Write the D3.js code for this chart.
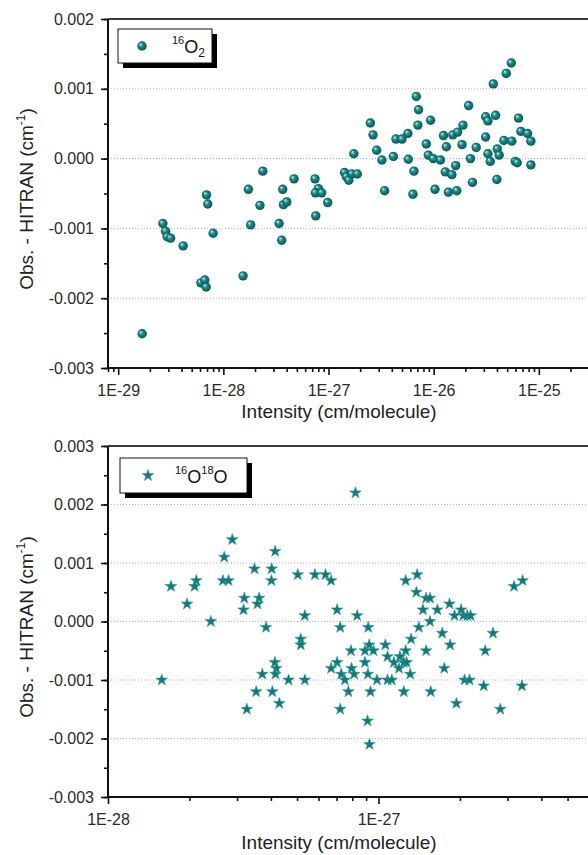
<!DOCTYPE html>
<html>
<head>
<meta charset="utf-8">
<script src="https://cdn.jsdelivr.net/npm/d3@7"></script>
<style>
  html, body { margin: 0; padding: 0; background: #fff; }
  svg { display: block; font-family: Arial, "Liberation Sans", sans-serif; }
</style>
</head>
<body>
<svg id="chart" width="588" height="855"></svg>
<script>
// 16O2 lines: line intensity (cm/molecule) and observed minus HITRAN position (cm-1)
const o2Intensity = [
  1.69e-29, 2.66e-29, 2.82e-29, 2.92e-29, 3.15e-29, 4.15e-29, 6.92e-29, 7.11e-29, 7.99e-29, 6.11e-29,
  6.66e-29, 6.86e-29, 1.54e-28, 1.73e-28, 2.37e-28, 1.82e-28, 2.23e-28, 3.67e-28, 4.70e-28, 3.39e-28,
  3.59e-28, 3.73e-28, 4.01e-28, 7.44e-28, 8.02e-28, 7.51e-28, 8.61e-28, 9.83e-28, 7.56e-28, 5.47e-26,
  4.90e-26, 3.69e-26, 6.84e-27, 7.19e-27, 2.15e-26, 2.50e-27, 2.65e-27, 7.08e-27, 9.35e-27, 3.12e-26,
  3.28e-26, 3.88e-26, 6.41e-26, 4.38e-27, 4.99e-27, 5.69e-27, 1.24e-26, 1.52e-26, 1.69e-26, 1.90e-26,
  3.12e-26, 6.75e-26, 7.81e-26, 8.40e-26, 4.65e-26, 5.54e-26, 2.87e-27, 1.74e-27, 4.14e-27, 3.22e-27,
  5.74e-27, 8.51e-27, 8.89e-27, 9.92e-27, 1.16e-26, 1.32e-26, 1.86e-26, 2.54e-26, 2.24e-26, 3.28e-26,
  3.45e-26, 4.03e-26, 4.20e-26, 5.97e-26, 6.23e-26, 8.40e-26, 6.49e-27, 1.29e-26, 1.49e-26, 1.62e-26,
  1.42e-27, 1.48e-27, 1.56e-27, 1.67e-27, 1.88e-27, 3.42e-27, 6.35e-27, 1.03e-26, 1.38e-26, 1.66e-26,
  2.34e-26, 3.99e-26
];
const o2Delta = [
  -0.00251, -0.00093, -0.00104, -0.00112, -0.00114, -0.00125, -0.00052, -0.00065, -0.00107, -0.00178,
  -0.00174, -0.00184, -0.00168, -0.00044, -0.00018, -0.00095, -0.00067, -0.00044, -0.00029, -0.00093,
  -0.00117, -0.00066, -0.00062, -0.00029, -0.00043, -0.00049, -0.00049, -0.00063, -0.00082, 0.00137,
  0.00122, 0.00107, 0.00089, 0.00070, 0.00076, 0.00051, 0.00034, 0.00048, 0.00055, 0.00060,
  0.00054, 0.00062, 0.00058, 0.00028, 0.00028, 0.00036, 0.00033, 0.00034, 0.00038, 0.00048,
  0.00031, 0.00039, 0.00036, 0.00025, 0.00026, 0.00025, 0.00012, 0.00007, 0.00003, -0.00002,
  -0.00001, 0.00021, 0.00005, 0.00000, -0.00002, 0.00017, 0.00020, 0.00016, 0.00000, 0.00007,
  -0.00004, 0.00014, 0.00005, -0.00004, -0.00006, -0.00009, -0.00018, -0.00019, -0.00023, -0.00010,
  -0.00020, -0.00026, -0.00031, -0.00022, -0.00022, -0.00046, -0.00051, -0.00044, -0.00048, -0.00046,
  -0.00034, -0.00030
];

// 16O18O lines
const o18Intensity = [
  2.88e-28, 2.69e-28, 4.15e-28, 3.48e-28, 4.03e-28, 1.71e-28, 2.12e-28, 2.09e-28, 2.66e-28, 2.79e-28,
  4.02e-28, 5.03e-28, 5.82e-28, 6.37e-28, 6.68e-28, 1.96e-28, 3.19e-28, 3.62e-28, 3.57e-28, 3.17e-28,
  2.40e-28, 3.84e-28, 5.34e-28, 7.03e-28, 5.16e-28, 5.16e-28, 4.14e-28, 4.19e-28, 3.72e-28, 4.16e-28,
  4.65e-28, 5.34e-28, 1.58e-28, 3.53e-28, 4.05e-28, 4.30e-28, 3.26e-28, 7.03e-28, 6.68e-28, 7.22e-28,
  7.28e-28, 7.22e-28, 8.22e-28, 1.26e-27, 1.39e-27, 1.38e-27, 1.50e-27, 1.55e-27, 1.83e-27, 2.02e-27,
  1.91e-27, 2.06e-27, 2.13e-27, 2.19e-27, 3.17e-27, 3.41e-27, 8.34e-28, 9.16e-28, 1.46e-27, 1.65e-27,
  1.55e-27, 1.41e-27, 1.72e-27, 2.65e-27, 1.32e-27, 1.84e-27, 7.91e-28, 8.91e-28, 9.24e-28, 9.58e-28,
  1.06e-27, 1.26e-27, 1.50e-27, 2.48e-27, 1.08e-27, 1.14e-27, 1.20e-27, 1.24e-27, 1.27e-27, 1.19e-27,
  8.91e-28, 7.95e-28, 7.51e-28, 8.13e-28, 9.14e-28, 9.87e-28, 1.08e-27, 1.12e-27, 1.31e-27, 1.75e-27,
  2.08e-27, 2.17e-27, 2.45e-27, 3.39e-27, 7.74e-28, 9.34e-28, 1.24e-27, 1.56e-27, 1.94e-27, 2.82e-27,
  9.11e-28, 9.26e-28
];
const o18Delta = [
  0.0014, 0.0011, 0.0012, 0.0009, 0.0009, 0.0006, 0.0007, 0.0006, 0.0007, 0.0007,
  0.0007, 0.0008, 0.0008, 0.0008, 0.0007, 0.0003, 0.0004, 0.0004, 0.0003, 0.0002,
  0.0000, -0.0001, 0.0001, 0.0002, -0.0003, -0.0004, -0.0007, -0.0008, -0.0009, -0.0009,
  -0.0010, -0.0010, -0.0010, -0.0012, -0.0012, -0.0014, -0.0015, -0.0007, -0.0008, -0.0001,
  -0.0009, -0.0015, 0.0022, 0.0007, 0.0008, 0.0005, 0.0004, 0.0004, 0.0003, 0.0002,
  0.0001, 0.0001, 0.0001, 0.0001, 0.0006, 0.0007, 0.0001, -0.0001, 0.0002, 0.0002,
  0.0000, -0.0001, -0.0002, -0.0002, -0.0003, -0.0004, -0.0005, -0.0005, -0.0004, -0.0005,
  -0.0004, -0.0005, -0.0005, -0.0005, -0.0006, -0.0007, -0.0006, -0.0007, -0.0007, -0.0008,
  -0.0007, -0.0008, -0.0010, -0.0009, -0.0009, -0.0010, -0.0010, -0.0010, -0.0009, -0.0008,
  -0.0010, -0.0010, -0.0011, -0.0011, -0.0012, -0.0012, -0.0012, -0.0012, -0.0014, -0.0015,
  -0.0017, -0.0021
];

// Axis ticks
const topXDomain = [8e-30, 3e-25];
const topXMajor = [1e-29, 1e-28, 1e-27, 1e-26, 1e-25];
const topYDomain = [-0.003, 0.002];
const topYMajor = [-0.003, -0.002, -0.001, 0.000, 0.001, 0.002];
const topGrid = [-0.002, -0.001, 0.000, 0.001];

const botXDomain = [1e-28, 6e-27];
const botXMajor = [1e-28, 1e-27];
const botYDomain = [-0.003, 0.003];
const botYMajor = [-0.003, -0.002, -0.001, 0.000, 0.001, 0.002, 0.003];
const botGrid = [-0.002, -0.001, 0.000, 0.001, 0.002];

const yTitle = "Obs. - HITRAN (cm";
const xTitle = "Intensity (cm/molecule)";
const markColor = "#0e7b79";

const svg = d3.select("#chart");

// shaded-ball gradient for the 16O2 markers
const defs = svg.append("defs");
const grad = defs.append("radialGradient").attr("id", "ball")
  .attr("cx", "50%").attr("cy", "50%").attr("r", "55%")
  .attr("fx", "32%").attr("fy", "30%");
grad.append("stop").attr("offset", "0%").attr("stop-color", "#f4ffff");
grad.append("stop").attr("offset", "18%").attr("stop-color", "#6fc0bd");
grad.append("stop").attr("offset", "45%").attr("stop-color", "#148683");
grad.append("stop").attr("offset", "100%").attr("stop-color", "#07514f");

function logMinor(domain) {
  const out = [];
  const lo = Math.floor(Math.log10(domain[0])), hi = Math.ceil(Math.log10(domain[1]));
  for (let e = lo; e <= hi; e++) {
    for (let m = 2; m <= 9; m++) {
      const v = m * Math.pow(10, e);
      if (v >= domain[0] * 0.999 && v <= domain[1] * 1.001) out.push(v);
    }
  }
  return out;
}

function drawPanel(p) {
  const g = svg.append("g");
  const x = d3.scaleLog().domain(p.xDomain).range([p.left, p.right]);
  const y = d3.scaleLinear().domain(p.yDomain).range([p.bottom, p.top]);

  // dotted horizontal grid
  g.append("g").selectAll("line").data(p.grid).join("line")
    .attr("x1", p.left).attr("x2", p.right)
    .attr("y1", d => y(d)).attr("y2", d => y(d))
    .attr("stroke", "#a9a9e6").attr("stroke-width", 1)
    .attr("stroke-dasharray", "1,2");

  // frame top/right
  g.append("path")
    .attr("d", `M${p.left},${p.top}H${p.right}V${p.bottom}`)
    .attr("fill", "none").attr("stroke", "#3a3a3a").attr("stroke-width", 2);

  // y axis
  const yMinor = d3.range(p.yDomain[0], p.yDomain[1] + 1e-9, 0.0005);
  const yAxMinor = g.append("g").attr("transform", `translate(${p.left},0)`)
    .call(d3.axisLeft(y).tickValues(yMinor).tickSize(4).tickFormat(""));
  yAxMinor.select(".domain").remove();
  const yAx = g.append("g").attr("transform", `translate(${p.left},0)`)
    .call(d3.axisLeft(y).tickValues(p.yMajor).tickSize(7).tickPadding(7)
      .tickFormat(d => (Math.abs(d) < 1e-12 ? 0 : d).toFixed(3)));
  yAx.select(".domain").remove();

  // x axis
  const xAxMinor = g.append("g").attr("transform", `translate(0,${p.bottom})`)
    .call(d3.axisBottom(x).tickValues(logMinor(p.xDomain)).tickSize(4).tickFormat(""));
  xAxMinor.select(".domain").remove();
  const xAx = g.append("g").attr("transform", `translate(0,${p.bottom})`)
    .call(d3.axisBottom(x).tickValues(p.xMajor).tickSize(7).tickPadding(10)
      .tickFormat(d => "1E" + Math.round(Math.log10(d))));
  xAx.select(".domain").remove();

  g.selectAll(".tick line").attr("stroke", "#111").attr("stroke-width", 1.6);
  g.selectAll(".tick text").attr("font-size", 16).attr("fill", "#2a2a2a")
    .attr("font-family", "Arial, 'Liberation Sans', sans-serif");

  // axis lines
  g.append("path")
    .attr("d", `M${p.left},${p.top}V${p.bottom}H${p.right}`)
    .attr("fill", "none").attr("stroke", "#111").attr("stroke-width", 2);

  // axis titles
  const yt = g.append("text")
    .attr("transform", `translate(33,${p.yTitleY}) rotate(-90)`)
    .attr("text-anchor", "middle").attr("font-size", 19).attr("fill", "#222");
  yt.append("tspan").text(yTitle);
  yt.append("tspan").attr("font-size", 12).attr("dy", -8).text("-1");
  yt.append("tspan").attr("dy", 8).text(")");

  g.append("text").attr("x", p.xTitleX).attr("y", p.xTitleY)
    .attr("text-anchor", "middle").attr("font-size", 19).attr("fill", "#222")
    .text(xTitle);

  // marks
  const pts = p.xs.map((v, i) => ({ x: v, y: p.ys[i] }));
  const marks = g.append("g");
  if (p.kind === "ball") {
    marks.selectAll("circle").data(pts).join("circle")
      .attr("cx", d => x(d.x)).attr("cy", d => y(d.y)).attr("r", 4.7)
      .attr("fill", "url(#ball)");
  } else {
    const star = d3.symbol().type(d3.symbolStar).size(42);
    marks.selectAll("path").data(pts).join("path")
      .attr("transform", d => `translate(${x(d.x)},${y(d.y)})`)
      .attr("d", star).attr("fill", markColor)
      .attr("stroke", "#2f9593").attr("stroke-width", 0.6);
  }

  // legend with drop shadow
  const L = p.legend;
  g.append("rect").attr("x", L.x + 5).attr("y", L.y + 5).attr("width", L.w).attr("height", L.h)
    .attr("fill", "#000");
  g.append("rect").attr("x", L.x).attr("y", L.y).attr("width", L.w).attr("height", L.h)
    .attr("fill", "#fff").attr("stroke", "#111").attr("stroke-width", 1);
  if (p.kind === "ball") {
    g.append("circle").attr("cx", L.x + 24).attr("cy", L.y + L.h / 2).attr("r", 4.7)
      .attr("fill", "url(#ball)");
  } else {
    g.append("path").attr("transform", `translate(${L.x + 28},${L.y + L.h / 2})`)
      .attr("d", d3.symbol().type(d3.symbolStar).size(42)).attr("fill", markColor)
      .attr("stroke", "#2f9593").attr("stroke-width", 0.6);
  }
  const lt = g.append("text").attr("x", L.textX).attr("y", L.y + L.h / 2 + 7)
    .attr("font-size", 18).attr("fill", "#111");
  L.parts.forEach(part => {
    const t = lt.append("tspan").text(part.t);
    if (part.sup) t.attr("font-size", 11).attr("dy", -9);
    else if (part.sub) t.attr("font-size", 12).attr("dy", 4);
    else if (part.reset) t.attr("dy", part.reset);
  });
}

drawPanel({
  kind: "ball", xs: o2Intensity, ys: o2Delta,
  xDomain: topXDomain, xMajor: topXMajor, yDomain: topYDomain, yMajor: topYMajor, grid: topGrid,
  left: 108, right: 589, top: 19, bottom: 368,
  yTitleY: 199, xTitleX: 339, xTitleY: 418,
  legend: { x: 118, y: 29, w: 94, h: 34, textX: 172,
    parts: [{ t: "16", sup: true }, { t: "O", reset: 9 }, { t: "2", sub: true }] }
});

drawPanel({
  kind: "star", xs: o18Intensity, ys: o18Delta,
  xDomain: botXDomain, xMajor: botXMajor, yDomain: botYDomain, yMajor: botYMajor, grid: botGrid,
  left: 108, right: 589, top: 446, bottom: 797,
  yTitleY: 627, xTitleX: 339, xTitleY: 849,
  legend: { x: 120, y: 458, w: 127, h: 35, textX: 175,
    parts: [{ t: "16", sup: true }, { t: "O", reset: 9 }, { t: "18", sup: true }, { t: "O", reset: 9 }] }
});
</script>
</body>
</html>
